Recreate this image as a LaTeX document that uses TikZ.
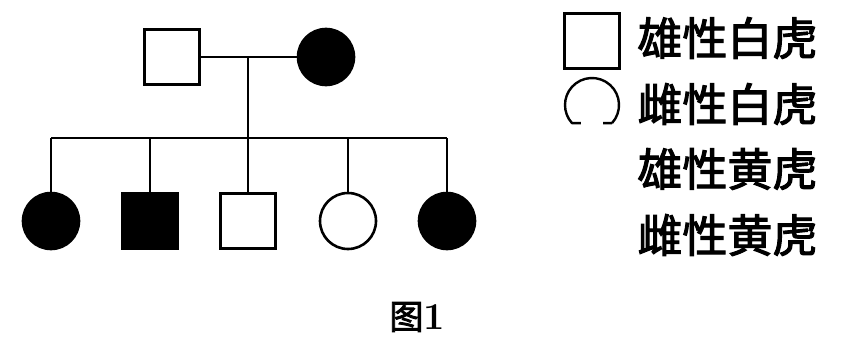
\documentclass[tikz,border=0pt]{standalone}
\usepackage{fontspec}
\newfontfamily\cjk[FakeBold=2.5]{Noto Sans CJK SC}
\begin{document}
\begin{tikzpicture}[x=1pt,y=-1pt, line width=2.8pt,
  male/.style={draw, minimum size=55pt, inner sep=0pt, line width=2.6pt},
  female/.style={draw, circle, minimum size=56pt, inner sep=0pt, line width=2.6pt},
  aff/.style={fill=black},
  lbl/.style={font=\cjk\fontsize{45}{45}\selectfont, anchor=west, inner sep=0pt}]
\useasboundingbox (0,0) rectangle (850,348);
% parents
\node[male] (f) at (172,57) {};
\node[female, aff] (m) at (326,57) {};
\coordinate (mid) at (248,57);
\coordinate (sib) at (248,138);
\coordinate (sl) at (51,138);
\coordinate (sr) at (447,138);
% children
\node[female, aff] (c1) at (51,221) {};
\node[male, aff] (c2) at (150,221) {};
\node[male] (c3) at (248,221) {};
\node[female] (c4) at (348,221) {};
\node[female, aff] (c5) at (447,221) {};
% connectors
\draw (f.east) -- (m.west);
\draw (mid) -- (sib);
\draw (sl) -- (sr);
\draw (c1 |- sl) -- (c1.north);
\draw (c2 |- sl) -- (c2.north);
\draw (sib) -- (c3.north);
\draw (c4 |- sl) -- (c4.north);
\draw (c5 |- sl) -- (c5.north);
% legend
\node[male, minimum size=55pt] (lm) at (592,41) {};
\coordinate (lc) at (592,105);
\draw[line width=2.4pt, line join=round] ([shift={(318:27pt)}]lc) -- ++(-9pt,0pt)
  ([shift={(318:27pt)}]lc) arc[start angle=318, end angle=582, radius=27pt] -- ++(9pt,0pt);
\node[lbl] (t1) at (636,38) {雄性白虎};
\node[lbl] (t2) at (636,104) {雌性白虎};
\node[lbl] (t3) at (636,169) {雄性黄虎};
\node[lbl] (t4) at (636,235) {雌性黄虎};
% caption
\node[inner sep=0pt, anchor=west] (cap) at (388,317) {{\cjk\fontsize{34}{34}\selectfont 图}{\fontsize{38}{38}\selectfont\bfseries 1}};
\end{tikzpicture}
\end{document}
